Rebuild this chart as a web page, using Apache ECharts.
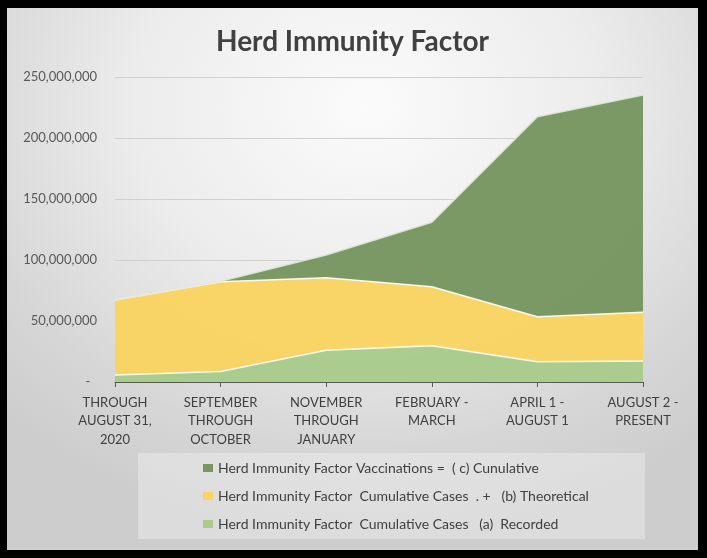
<!DOCTYPE html>
<html>
<head>
<meta charset="utf-8">
<script src="https://cdn.jsdelivr.net/npm/echarts@6/dist/echarts.min.js"></script>
<style>
  html, body { margin: 0; padding: 0; background: #000; }
  #frame {
    position: absolute; left: 7px; top: 8px; width: 691px; height: 542px;
    background: radial-gradient(ellipse 75% 80% at 52% 18%, #fbfbfb 0%, #ececec 45%, #d6d6d6 80%, #cdcdcd 100%);
  }
  #main { width: 691px; height: 542px; }
</style>
</head>
<body>
<div id="frame"><div id="main"></div></div>
<script>
// categories (x axis)
const categories = [
  'THROUGH\nAUGUST 31,\n2020',
  'SEPTEMBER\nTHROUGH\nOCTOBER',
  'NOVEMBER\nTHROUGH\nJANUARY',
  'FEBRUARY -\nMARCH',
  'APRIL 1 -\nAUGUST 1',
  'AUGUST 2 -\nPRESENT'
]
const seriesNames = [
  'Herd Immunity Factor  Cumulative Cases   (a)  Recorded',
  'Herd Immunity Factor  Cumulative Cases  . +   (b) Theoretical',
  'Herd Immunity Factor Vaccinations =  ( c) Cunulative'
]
// stacked values, bottom to top
const recorded = [5700000, 8600000, 26000000, 29800000, 16600000, 17200000]
const theoretical = [61500000, 73600000, 59500000, 48300000, 36900000, 39900000]
const vaccinations = [0, 300000, 18600000, 52800000, 164000000, 178100000]
const yTicks = { min: 0, max: 250000000, interval: 50000000 }

const colors = ['#a9cb8c', '#f9d462', '#76965f']
const font = 'Lato, "Liberation Sans", sans-serif'

const chart = echarts.init(document.getElementById('main'), null, { renderer: 'canvas' })

const makeSeries = (name, data, i) => ({
  name: name,
  type: 'line',
  stack: 'total',
  data: data,
  symbol: 'none',
  color: colors[i],
  lineStyle: { color: i === 2 ? '#dfe8d8' : '#ffffff', width: 1.5, opacity: 0.9 },
  areaStyle: { color: colors[i], opacity: 0.97 },
  emphasis: { disabled: true }
})

chart.setOption({
  backgroundColor: 'transparent',
  animation: false,
  title: {
    text: 'Herd Immunity Factor',
    left: 'center',
    top: 15,
    textStyle: { fontFamily: font, fontSize: 28, fontWeight: 'bold', color: '#404040' }
  },
  graphic: [{
    type: 'rect',
    z: 0,
    shape: { x: 131, y: 445, width: 507, height: 86 },
    style: { fill: 'rgba(255,255,255,0.3)' }
  }],
  grid: { left: 108, right: 55, top: 69, bottom: 168 },
  legend: {
    orient: 'vertical',
    left: 191,
    top: 448,
    itemGap: 14,
    itemWidth: 10,
    itemHeight: 8,
    icon: 'rect',
    data: [seriesNames[2], seriesNames[1], seriesNames[0]],
    textStyle: { fontFamily: font, fontSize: 14, color: '#404040' }
  },
  xAxis: {
    type: 'category',
    boundaryGap: false,
    data: categories,
    axisLine: { lineStyle: { color: '#595959', width: 1 } },
    axisTick: { show: true, length: 5, lineStyle: { color: '#595959' } },
    axisLabel: {
      interval: 0,
      margin: 11,
      fontFamily: font,
      fontSize: 13,
      lineHeight: 18.7,
      color: '#404040'
    }
  },
  yAxis: {
    type: 'value',
    min: yTicks.min,
    max: yTicks.max,
    interval: yTicks.interval,
    axisLine: { show: false },
    axisTick: { show: false },
    splitLine: { lineStyle: { color: '#d0d0d0', width: 1 } },
    axisLabel: {
      margin: 18,
      fontFamily: font,
      fontSize: 13,
      color: '#595959',
      formatter: v => v === 0 ? '-  ' : v.toLocaleString('en-US')
    }
  },
  series: [
    makeSeries(seriesNames[0], recorded, 0),
    makeSeries(seriesNames[1], theoretical, 1),
    makeSeries(seriesNames[2], vaccinations, 2)
  ]
})
</script>
</body>
</html>
